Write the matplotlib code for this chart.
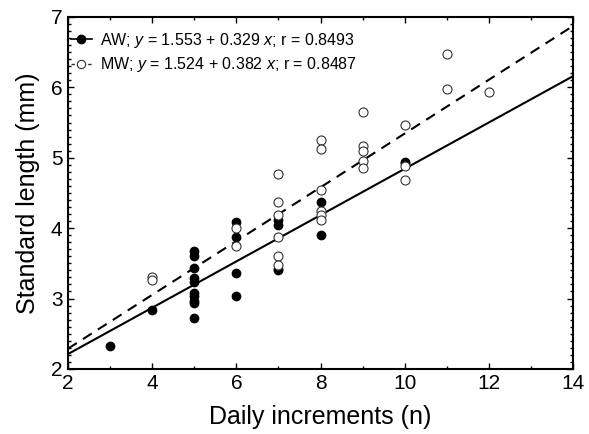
import matplotlib
matplotlib.use("Agg")
import matplotlib.pyplot as plt
import numpy as np
from matplotlib.ticker import MultipleLocator

plt.rcParams["font.family"] = ["Liberation Sans", "DejaVu Sans"]
plt.rcParams["mathtext.fontset"] = "custom"
plt.rcParams["mathtext.it"] = "Liberation Sans:italic"
plt.rcParams["mathtext.rm"] = "Liberation Sans"

# AW (filled circles)
aw_x = [3, 4,
        5, 5, 5, 5, 5, 5, 5, 5, 5, 5,
        6, 6, 6, 6,
        7, 7, 7, 7,
        8, 8,
        10, 10]
aw_y = [2.33, 2.83,
        3.68, 3.61, 3.43, 3.29, 3.23, 3.08, 3.03, 2.96, 2.93, 2.73,
        4.08, 3.87, 3.36, 3.04,
        4.12, 4.05, 3.42, 3.40,
        4.37, 3.90,
        4.94, 4.92]

# MW (open circles)
mw_x = [4, 4,
        6, 6,
        7, 7, 7, 7, 7, 7,
        8, 8, 8, 8, 8, 8,
        9, 9, 9, 9, 9,
        10, 10, 10,
        11, 11,
        12]
mw_y = [3.30, 3.26,
        4.00, 3.75,
        4.77, 4.37, 4.19, 3.88, 3.60, 3.47,
        5.25, 5.12, 4.54, 4.25, 4.18, 4.11,
        5.65, 5.16, 5.09, 4.95, 4.86,
        5.47, 4.88, 4.69,
        6.48, 5.97,
        5.93]

aw_fit = (1.553, 0.329)
mw_fit = (1.524, 0.382)
aw_label = "AW; $y$ = 1.553 + 0.329 $x$; r = 0.8493"
mw_label = "MW; $y$ = 1.524 + 0.382 $x$; r = 0.8487"

fig = plt.figure(figsize=(5.89, 4.34), dpi=100)
ax = fig.add_axes([0.1155, 0.15, 0.8575, 0.811])

line_x = np.array([2, 14])
ax.plot(line_x, aw_fit[0] + aw_fit[1] * line_x, color="black", lw=1.5, zorder=2)
ax.plot(line_x, mw_fit[0] + mw_fit[1] * line_x, color="black", lw=1.5,
        dashes=(5, 3.5), zorder=2)

ax.plot(aw_x, aw_y, "o", color="black", ms=6, zorder=3)
ax.plot(mw_x, mw_y, "o", mfc="white", mec="#333333", mew=0.8, ms=6.5, zorder=4)

# legend handles: marker with short line through it
h_aw, = ax.plot([], [], "-o", color="black", ms=6, lw=1.2)
h_mw, = ax.plot([], [], "--o", color="#333333", mfc="white", mew=0.8, ms=6,
                lw=1.0, dashes=(2.5, 1.5))
ax.legend([h_aw, h_mw], [aw_label, mw_label], loc="upper left",
          frameon=False, fontsize=11.5, handlelength=1.3, handletextpad=0.5,
          labelspacing=0.35, borderaxespad=0.0, borderpad=0.3,
          bbox_to_anchor=(-0.004, 0.975))

ax.set_xlim(2, 14)
ax.set_ylim(2, 7)
ax.xaxis.set_major_locator(MultipleLocator(2))
ax.xaxis.set_minor_locator(MultipleLocator(1))
ax.yaxis.set_major_locator(MultipleLocator(1))
ax.yaxis.set_minor_locator(MultipleLocator(0.1))
ax.tick_params(which="both", direction="in", top=True, right=True,
               labelsize=15, width=1.0, pad=4)
ax.tick_params(which="major", length=4)
ax.tick_params(which="minor", length=2)
for s in ax.spines.values():
    s.set_linewidth(1.5)

ax.set_xlabel("Daily increments (n)", fontsize=18, labelpad=8)
ax.set_ylabel("Standard length (mm)", fontsize=18, labelpad=8)

fig.savefig("out.png", dpi=100)
